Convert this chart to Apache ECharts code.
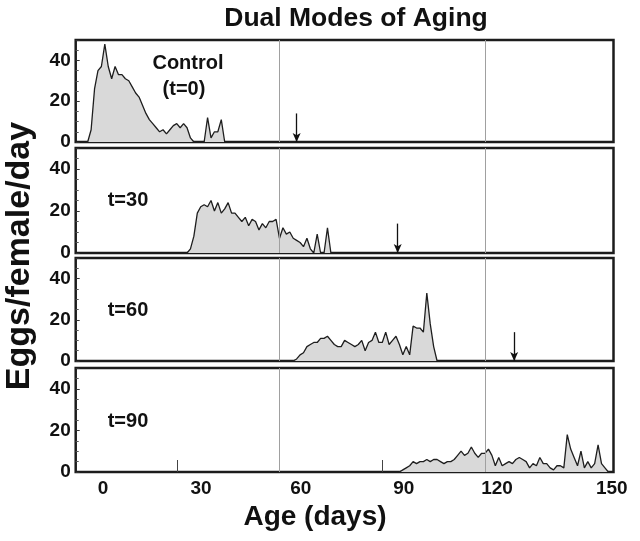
<!DOCTYPE html>
<html lang="en">
<head>
    <meta charset="UTF-8">
    <title>Dual Modes of Aging</title>
</head>
<body style="margin:0;background:#fff">
<div id="chart" style="width: 640px;height: 541px"></div>
<script src="https://cdn.jsdelivr.net/npm/echarts@6/dist/echarts.min.js"></script>
<script>
    // eggs/female/day, one value per day, starting at the given day
    const controlStart = 4
    const controlEggs = [0, 6, 26, 35, 37, 48, 37, 31, 37, 33,
        33, 31, 30, 27, 24, 22, 18, 14, 11, 9,
        7, 5, 6, 4, 6, 8, 9, 7, 9, 7,
        2, 0, 0, 0, 0, 12, 2, 5, 5, 11, 0]
    const t30Start = 33
    const t30Eggs = [0, 2, 8, 19, 22, 23, 22, 25, 20, 24,
        19, 21, 24, 19, 19, 17, 15, 17, 13, 16,
        15, 11, 14, 12, 15, 15, 16, 7, 12, 9,
        10, 7, 6, 5, 3, 7, 2, 0, 9, 0,
        0, 12, 0]
    const t60Start = 64
    const t60Eggs = [0, 1, 3, 4, 7, 8, 9, 9, 11, 11,
        12, 10, 8, 7, 7, 10, 9, 8, 7, 8,
        10, 5, 9, 10, 14, 9, 9, 14, 8, 10,
        12, 8, 3, 7, 3, 17, 16, 16, 14, 33,
        18, 7, 0]
    const t90Start = 95
    const t90Eggs = [0, 1, 2, 3, 5, 4, 5, 5, 6, 5,
        6, 6, 5, 4, 5, 5, 6, 8, 10, 8,
        9, 12, 9, 7, 9, 9, 11, 8, 3, 7,
        3, 4, 5, 4, 6, 7, 6, 5, 2, 4,
        3, 7, 4, 4, 2, 1, 3, 3, 2, 18,
        11, 7, 3, 10, 2, 5, 2, 4, 13, 4,
        2, 0]

    const panelNames = ['Control', 't=30', 't=60', 't=90']
    const arrowDays = [65, 94.5, 128.5, null]
    const arrowHeight = 14
    const refLines = [60, 120]
    const innerTicks = [30, 90]
    const tickLabels = ['0', '30', '60', '90', '120', '150']

    const toPairs = (start, vals) => vals.map((v, i) => [start + i, v])
    const panels = [
        toPairs(controlStart, controlEggs),
        toPairs(t30Start, t30Eggs),
        toPairs(t60Start, t60Eggs),
        toPairs(t90Start, t90Eggs)
    ]

    // label positions (in axis days) as they sit in the original figure
    const labelAt = [8.5, 37.1, 66.2, 96.3, 123.5, 157]

    const FONT = '"Liberation Sans", Arial, sans-serif'
    const gridTops = [40, 148, 258, 368]
    const gridHeights = [102, 105, 103, 104]

    const grids = gridTops.map((top, i) => ({
        left: 75.7, right: 26.5, top: top, height: gridHeights[i],
        show: true, borderColor: '#1c1c1c', borderWidth: 2.5, backgroundColor: '#fff'
    }))

    const xAxes = panels.map((p, i) => {
        const last = i === panels.length - 1
        return {
            type: 'value', gridIndex: i, min: 0.5, max: 157.5,
            axisLine: {show: false},
            splitLine: {show: false},
            axisTick: last ? {show: true, inside: true, length: 12, customValues: innerTicks,
                lineStyle: {color: '#444', width: 1}} : {show: false},
            axisLabel: last ? {
                show: true, customValues: labelAt, margin: 7,
                fontFamily: FONT, fontWeight: 'bold', fontSize: 19, color: '#111',
                formatter: (v, idx) => {
                    let k = labelAt.indexOf(v)
                    if (k < 0) k = idx
                    return tickLabels[k] || ''
                }
            } : {show: false}
        }
    })

    const yAxes = panels.map((p, i) => ({
        type: 'value', gridIndex: i, min: 0, max: 50, interval: 20,
        axisLine: {show: false},
        splitLine: {show: false},
        axisTick: {show: true, inside: true, length: 4, lineStyle: {color: '#333'}},
        minorTick: {show: true, splitNumber: 4, length: 3, lineStyle: {color: '#555'}},
        axisLabel: {
            showMaxLabel: false, margin: 5,
            fontFamily: FONT, fontWeight: 'bold', fontSize: 19, color: '#111'
        }
    }))

    const series = panels.map((data, i) => {
        const marks = refLines.map(d => ({xAxis: d}))
        if (arrowDays[i] != null) {
            marks.push([
                {coord: [arrowDays[i], arrowHeight], symbol: 'none',
                    lineStyle: {color: '#111', width: 1.3, type: 'solid'}},
                {coord: [arrowDays[i], 0], symbol: 'arrow', symbolSize: [6, 9],
                    lineStyle: {color: '#111', width: 1.3, type: 'solid'}}
            ])
        }
        return {
            type: 'line',
            name: panelNames[i],
            xAxisIndex: i, yAxisIndex: i,
            data: data,
            symbol: 'none',
            animation: false,
            lineStyle: {color: '#1e1e1e', width: 1.3},
            areaStyle: {color: '#d9d9d9', opacity: 1},
            markLine: {
                silent: true, symbol: 'none', animation: false,
                label: {show: false},
                lineStyle: {color: '#a0a0a0', width: 1, type: 'solid'},
                data: marks
            }
        }
    })

    const txt = (text, x, y, size, extra) => Object.assign({
        type: 'text', x: x, y: y, z: 100,
        style: {
            text: text, fill: '#111', font: 'bold ' + size + 'px ' + FONT,
            textAlign: 'center', textVerticalAlign: 'middle'
        }
    }, extra || {})

    const chart = echarts.init(document.getElementById('chart'))
    chart.setOption({
        animation: false,
        grid: grids,
        xAxis: xAxes,
        yAxis: yAxes,
        series: series,
        graphic: [
            txt('Dual Modes of Aging', 356, 19, 26.5),
            txt('Control', 188, 63, 20),
            txt('(t=0)', 184, 89, 20),
            txt('t=30', 128, 200, 20),
            txt('t=60', 128, 310, 20),
            txt('t=90', 128, 421, 20),
            txt('Age (days)', 315, 517, 28),
            txt('Eggs/female/day', 20, 256, 34, {rotation: Math.PI / 2})
        ]
    })
    window.addEventListener('resize', () => {
        chart.resize()
    })
</script>
</body>
</html>
